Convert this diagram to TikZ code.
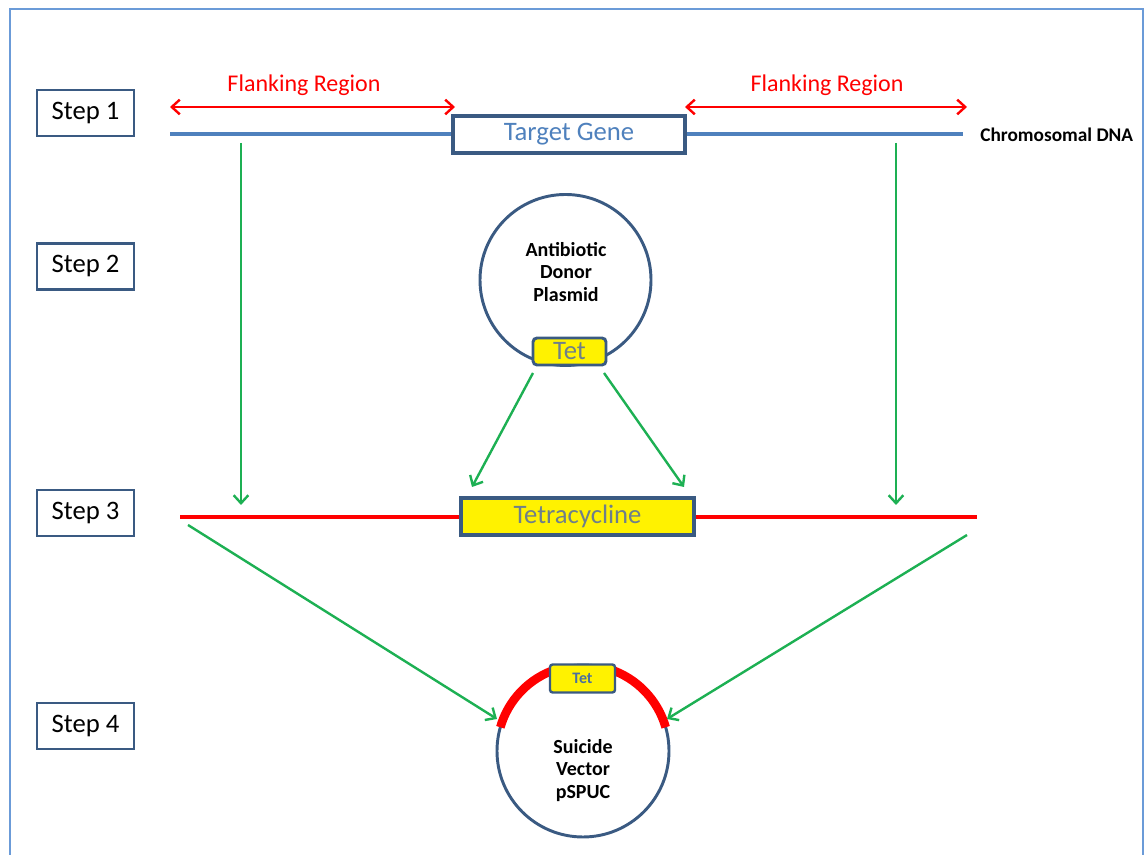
\documentclass[tikz,border=0pt]{standalone}
\usepackage{fontspec}
\setmainfont{Carlito}
\usetikzlibrary{arrows.meta}
\definecolor{frameblue}{HTML}{6B9BD8}
\definecolor{boxblue}{HTML}{3A5A82}
\definecolor{dnablue}{HTML}{4F81BD}
\definecolor{okgreen}{HTML}{1DB053}
\definecolor{tetgray}{HTML}{6E7F8A}
\definecolor{tetblue}{HTML}{4A6FA0}
\tikzset{
  stepbox/.style={draw=boxblue, line width=1.8pt, minimum width=97*0.75pt, minimum height=46*0.75pt, inner sep=0pt, font=\fontsize{20}{24}\selectfont},
  flank/.style={draw=red, line width=1.8pt, {Straight Barb[length=6pt,width=11pt]}-{Straight Barb[length=6pt,width=11pt]}},
  flanklabel/.style={text=red, font=\fontsize{18}{22}\selectfont},
  garrow/.style={draw=okgreen, line width=1.8pt, -{Straight Barb[length=6pt,width=11pt]}},
  bold14/.style={font=\bfseries\fontsize{15}{17}\selectfont, align=center},
}
\begin{document}
\begin{tikzpicture}[x=0.75pt,y=0.75pt]
\useasboundingbox (0,0) rectangle (1146,855);
\begin{scope}
\clip (0,0) rectangle (1146,855);
\draw[frameblue, line width=1.8pt] (10,-20) rectangle (1143,846);
\end{scope}

% step boxes
\node[stepbox] (s1) at (85.5,742) {Step 1};
\node[stepbox] (s2) at (85.5,588.5) {Step 2};
\node[stepbox] (s3) at (85.5,342) {Step 3};
\node[stepbox] (s4) at (85.5,129) {Step 4};

% Step 1: chromosomal DNA
\coordinate (dnaL) at (170,721);
\coordinate (dnaR) at (963,721);
\draw[dnablue, line width=2.8pt] (dnaL) -- (dnaR);
\node[draw=boxblue, fill=white, line width=2.6pt, minimum width=232*0.75pt, minimum height=37*0.75pt, inner sep=0pt, text=dnablue, font=\fontsize{20}{24}\selectfont] (tg) at (569,720.5) {Target Gene};
\node[anchor=west, font=\bfseries\fontsize{14.5}{16}\selectfont, inner sep=0pt] (chr) at (980,720) {Chromosomal DNA};

% flanking regions
\coordinate (f1a) at (170,748);
\coordinate (f1b) at (455,748);
\coordinate (f2a) at (685,748);
\coordinate (f2b) at (967,748);
\draw[flank] (f1a) -- (f1b);
\draw[flank] (f2a) -- (f2b);
\node[flanklabel] (fl1) at (304,770) {Flanking Region};
\node[flanklabel] (fl2) at (827,770) {Flanking Region};

% Step 2: donor plasmid
\node[draw=boxblue, circle, line width=2.2pt, minimum size=171*0.75pt, inner sep=0pt] (donor) at (565.5,575) {};
\node[bold14] (donortxt) at (566,583) {Antibiotic\\Donor\\Plasmid};
\node[draw=boxblue, fill=yellow, line width=2.2pt, rounded corners=3pt, minimum width=73*0.75pt, minimum height=27*0.75pt, inner sep=0pt, text=tetgray, font=\fontsize{20}{24}\selectfont] (tet1) at (569.5,503.5) {Tet};

% Step 3
\coordinate (r3L) at (180,338);
\coordinate (r3R) at (977,338);
\draw[red, line width=3.2pt] (r3L) -- (r3R);
\node[draw=boxblue, fill=yellow, line width=2.6pt, minimum width=233*0.75pt, minimum height=37*0.75pt, inner sep=0pt, text=tetgray, font=\fontsize{20}{24}\selectfont] (tc) at (577.5,338.5) {Tetracycline};

% green arrows step1 -> step3
\coordinate (g1s) at (241,712);
\coordinate (g1e) at (241,350);
\coordinate (g2s) at (896,712);
\coordinate (g2e) at (896,350);
\draw[garrow] (g1s) -- (g1e);
\draw[garrow] (g2s) -- (g2e);

% green arrows from Tet
\coordinate (t1s) at (533,482);
\coordinate (t1e) at (472,368);
\coordinate (t2s) at (604,482);
\coordinate (t2e) at (684,368);
\draw[garrow] (t1s) -- (t1e);
\draw[garrow] (t2s) -- (t2e);

% Step 4: suicide vector
\node[draw=boxblue, circle, line width=2.2pt, minimum size=172*0.75pt, inner sep=0pt] (sv) at (583,104) {};
\draw[red, line width=6.5pt] ([shift={(16:86)}]sv.center) arc[start angle=16, end angle=72, radius=86];
\draw[red, line width=6.5pt] ([shift={(108:86)}]sv.center) arc[start angle=108, end angle=164, radius=86];
\node[draw=boxblue, fill=yellow, line width=1.8pt, rounded corners=2pt, minimum width=65*0.75pt, minimum height=28*0.75pt, inner sep=0pt, text=tetblue, font=\bfseries\fontsize{12}{14}\selectfont] (tet2) at (582.5,176.5) {Tet};
\node[bold14] (svtxt) at (583,84.5) {Suicide\\Vector\\pSPUC};

% diagonal arrows
\coordinate (d1s) at (188,330);
\coordinate (d1e) at (497,136);
\coordinate (d2s) at (967,320);
\coordinate (d2e) at (667,136);
\draw[garrow] (d1s) -- (d1e);
\draw[garrow] (d2s) -- (d2e);
\end{tikzpicture}
\end{document}
